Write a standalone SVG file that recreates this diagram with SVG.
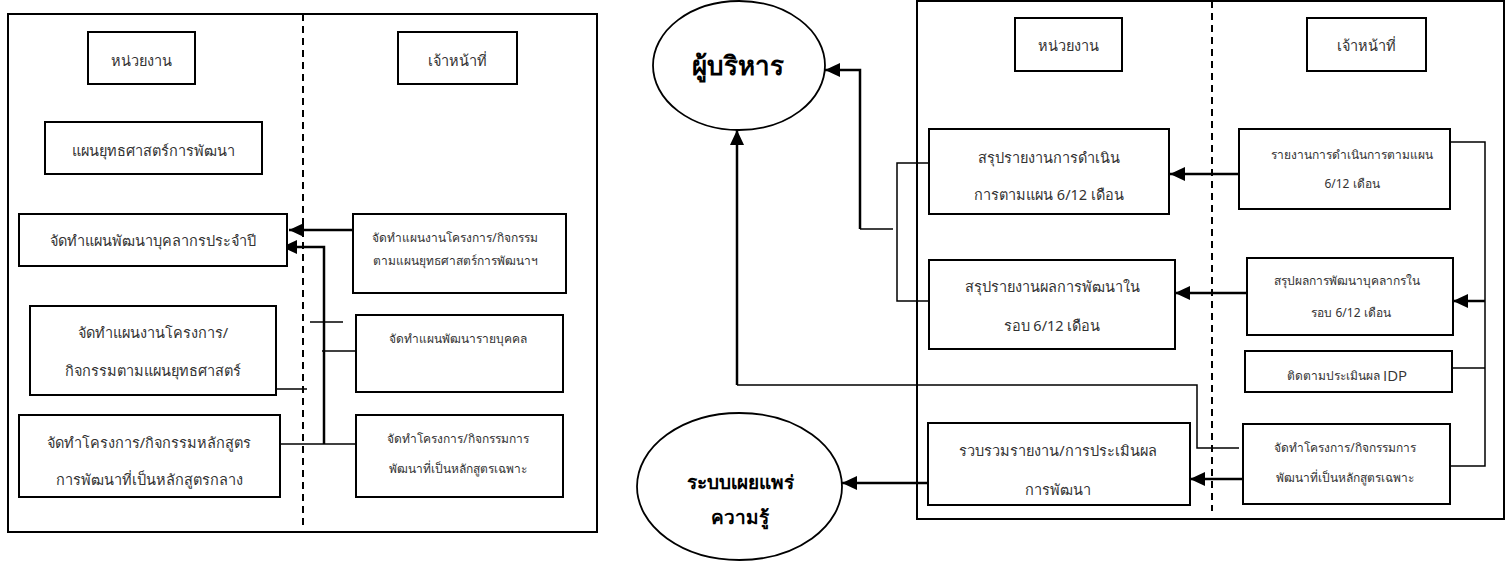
<svg xmlns="http://www.w3.org/2000/svg" width="1506" height="562" viewBox="0 0 1506 562">
  <style>
    .frame { fill: none; stroke: #000; stroke-width: 2; }
    .box { fill: #fff; stroke: #000; stroke-width: 2; }
    .oval { fill: #fff; stroke: #000; stroke-width: 1.8; }
    .lane { stroke: #000; stroke-width: 2; stroke-dasharray: 7 5; fill: none; }
    .wire { fill: none; stroke: #000; stroke-width: 1.5; }
    .flow { fill: none; stroke: #000; stroke-width: 2.5; }
    text { font-family: "Noto Sans", "DejaVu Sans", sans-serif; fill: #333; text-anchor: middle; dominant-baseline: central; }
    .t16 { font-size: 14.5px; }
    .t11 { font-size: 12px; }
    .bold { font-weight: bold; fill: #000; }
    .latin { font-family: "Open Sans", "Liberation Sans", sans-serif; font-size: 15px; }
  </style>
  <defs>
    <marker id="arrow" markerUnits="userSpaceOnUse" markerWidth="16" markerHeight="14" refX="15" refY="7" orient="auto">
      <path d="M0,0 L15,7 L0,14 Z" fill="#000"/>
    </marker>
  </defs>

  <!-- left panel frame and lane divider -->
  <rect class="frame" x="8" y="14" width="589" height="518"/>
  <line class="lane" x1="303" y1="14" x2="303" y2="526"/>

  <!-- right panel frame and lane divider -->
  <rect class="frame" x="917" y="1" width="587" height="518"/>
  <line class="lane" x1="1212" y1="1" x2="1212" y2="511"/>

  <!-- connectors -->
  <g id="connectors">
    <!-- left panel -->
    <line class="flow" x1="353" y1="230" x2="289" y2="230" marker-end="url(#arrow)"/>
    <polyline class="flow" points="324,444 324,247 282,247" marker-end="url(#arrow)"/>
    <line class="wire" x1="310" y1="322" x2="343" y2="322"/>
    <line class="wire" x1="322" y1="351" x2="356" y2="351"/>
    <line class="wire" x1="274" y1="389" x2="307" y2="389"/>
    <line class="wire" x1="280" y1="444" x2="356" y2="444"/>

    <!-- right panel -->
    <line class="flow" x1="1239" y1="174" x2="1170" y2="174" marker-end="url(#arrow)"/>
    <line class="flow" x1="1247" y1="293" x2="1175" y2="293" marker-end="url(#arrow)"/>
    <polyline class="wire" points="1450,142 1485,142 1485,466 1450,466"/>
    <line class="wire" x1="1452" y1="368" x2="1485" y2="368"/>
    <line class="flow" x1="1485" y1="301" x2="1453" y2="301" marker-end="url(#arrow)"/>
    <line class="flow" x1="1243" y1="479" x2="1190" y2="479" marker-end="url(#arrow)"/>
    <polyline class="wire" points="1239,448 1197,448 1197,385 737,385"/>
    <line class="flow" x1="737" y1="385" x2="737" y2="130" marker-end="url(#arrow)"/>
    <polyline class="wire" points="929,163 897,163 897,301 929,301"/>
    <line class="wire" x1="860" y1="229" x2="893" y2="229"/>
    <polyline class="flow" points="860,229 860,70 825,70" marker-end="url(#arrow)"/>
    <line class="flow" x1="928" y1="483" x2="842" y2="483" marker-end="url(#arrow)"/>
  </g>

  <!-- left panel nodes -->
  <g id="l-unit-head">
    <rect class="box" x="88" y="32" width="107" height="52"/>
    <text class="t16" x="141" y="60">หน่วยงาน</text>
  </g>
  <g id="l-staff-head">
    <rect class="box" x="398" y="32" width="119" height="52"/>
    <text class="t16" x="457" y="60">เจ้าหน้าที่</text>
  </g>
  <g id="l-strategy">
    <rect class="box" x="45" y="122" width="217" height="52"/>
    <text class="t16" x="153" y="150">แผนยุทธศาสตร์การพัฒนา</text>
  </g>
  <g id="l-annual-plan">
    <rect class="box" x="19" y="214" width="268" height="52"/>
    <text class="t16" x="153" y="240">จัดทำแผนพัฒนาบุคลากรประจำปี</text>
  </g>
  <g id="l-staff-projects">
    <rect class="box" x="353" y="214" width="213" height="79"/>
    <text class="t11" x="455" y="237">จัดทำแผนงานโครงการ/กิจกรรม</text>
    <text class="t11" x="455" y="260">ตามแผนยุทธศาสตร์การพัฒนาฯ</text>
  </g>
  <g id="l-unit-projects">
    <rect class="box" x="30" y="306" width="246" height="89"/>
    <text class="t16" x="153" y="332">จัดทำแผนงานโครงการ/</text>
    <text class="t16" x="153" y="370">กิจกรรมตามแผนยุทธศาสตร์</text>
  </g>
  <g id="l-idp">
    <rect class="box" x="356" y="315" width="207" height="77"/>
    <text class="t11" x="458" y="338">จัดทำแผนพัฒนารายบุคคล</text>
  </g>
  <g id="l-core-course">
    <rect class="box" x="19" y="415" width="261" height="82"/>
    <text class="t16" x="149" y="442">จัดทำโครงการ/กิจกรรมหลักสูตร</text>
    <text class="t16" x="149" y="479">การพัฒนาที่เป็นหลักสูตรกลาง</text>
  </g>
  <g id="l-special-course">
    <rect class="box" x="356" y="415" width="207" height="82"/>
    <text class="t11" x="458" y="438">จัดทำโครงการ/กิจกรรมการ</text>
    <text class="t11" x="458" y="468">พัฒนาที่เป็นหลักสูตรเฉพาะ</text>
  </g>

  <!-- right panel nodes -->
  <g id="executive">
    <ellipse class="oval" cx="739" cy="65.5" rx="86" ry="64.5"/>
    <text class="bold" x="738" y="65" font-size="26">ผู้บริหาร</text>
  </g>
  <g id="knowledge">
    <ellipse class="oval" cx="739.5" cy="486.5" rx="102.5" ry="73.5"/>
    <text class="bold" x="740" y="482" font-size="19">ระบบเผยแพร่</text>
    <text class="bold" x="740" y="517" font-size="19">ความรู้</text>
  </g>
  <g id="r-unit-head">
    <rect class="box" x="1015" y="18" width="107" height="53"/>
    <text class="t16" x="1068" y="45">หน่วยงาน</text>
  </g>
  <g id="r-staff-head">
    <rect class="box" x="1307" y="18" width="119" height="53"/>
    <text class="t16" x="1366" y="45">เจ้าหน้าที่</text>
  </g>
  <g id="r-summary-ops">
    <rect class="box" x="929" y="129" width="240" height="85"/>
    <text class="t16" x="1049" y="157">สรุปรายงานการดำเนิน</text>
    <text class="t16" x="1049" y="194">การตามแผน 6/12 เดือน</text>
  </g>
  <g id="r-report-ops">
    <rect class="box" x="1239" y="129" width="211" height="80"/>
    <text class="t11" x="1352" y="154">รายงานการดำเนินการตามแผน</text>
    <text class="t11" x="1352" y="183">6/12 เดือน</text>
  </g>
  <g id="r-summary-dev">
    <rect class="box" x="929" y="260" width="246" height="89"/>
    <text class="t16" x="1052" y="286">สรุปรายงานผลการพัฒนาใน</text>
    <text class="t16" x="1052" y="325">รอบ 6/12 เดือน</text>
  </g>
  <g id="r-staff-dev">
    <rect class="box" x="1247" y="258" width="206" height="77"/>
    <text class="t11" x="1347" y="280">สรุปผลการพัฒนาบุคลากรใน</text>
    <text class="t11" x="1351" y="312">รอบ 6/12 เดือน</text>
  </g>
  <g id="r-idp">
    <rect class="box" x="1245" y="351" width="207" height="41"/>
    <text x="1347" y="375"><tspan class="t11">ติดตามประเมินผล </tspan><tspan class="latin">IDP</tspan></text>
  </g>
  <g id="r-collect">
    <rect class="box" x="928" y="423" width="262" height="82"/>
    <text class="t16" x="1058" y="450">รวบรวมรายงาน/การประเมินผล</text>
    <text class="t16" x="1058" y="489">การพัฒนา</text>
  </g>
  <g id="r-special-course">
    <rect class="box" x="1243" y="424" width="207" height="80"/>
    <text class="t11" x="1345" y="447">จัดทำโครงการ/กิจกรรมการ</text>
    <text class="t11" x="1345" y="477">พัฒนาที่เป็นหลักสูตรเฉพาะ</text>
  </g>
</svg>
